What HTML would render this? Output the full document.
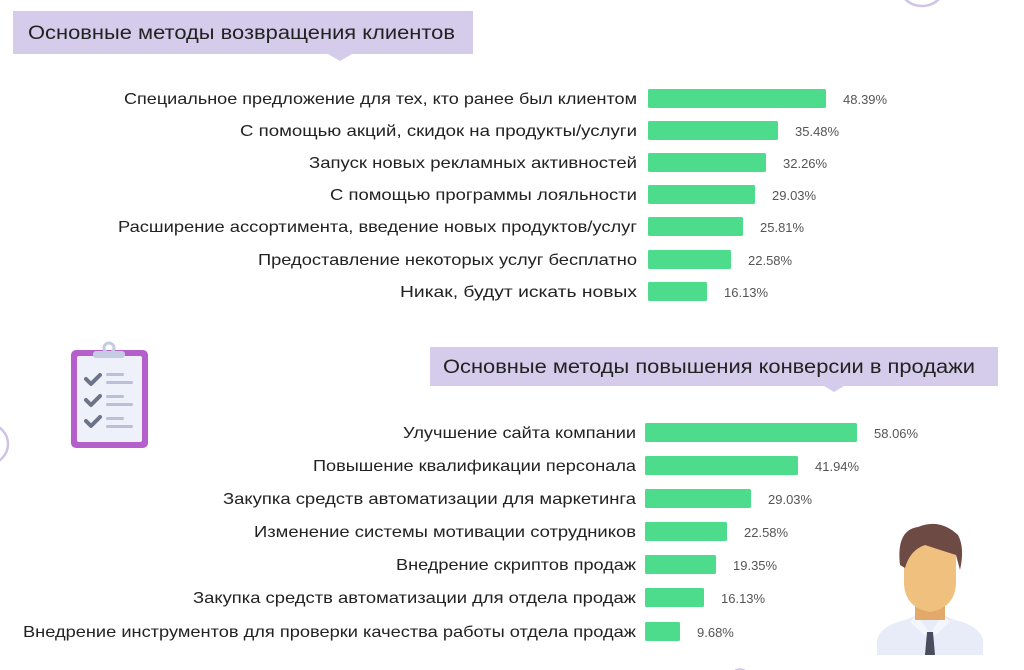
<!DOCTYPE html>
<html><head><meta charset="utf-8"><style>
html,body{margin:0;padding:0;background:#fff;}
svg{display:block;font-family:"Liberation Sans",sans-serif;}
</style></head><body>
<svg width="1024" height="670" viewBox="0 0 1024 670" xmlns="http://www.w3.org/2000/svg">
<circle cx="922" cy="-18" r="24" fill="none" stroke="#cfc3e6" stroke-width="2.5"/>
<circle cx="-12" cy="444" r="20" fill="none" stroke="#cfc3e6" stroke-width="2.5"/>
<circle cx="740" cy="678" r="9" fill="none" stroke="#cfc3e6" stroke-width="1.5"/>

<polygon points="13,11 473,11 473,54 352,54 340,61 328,54 13,54" fill="#d5cbea"/>
<text x="28" y="39" font-size="19" fill="#222" textLength="427" lengthAdjust="spacingAndGlyphs">Основные методы возвращения клиентов</text>

<g font-size="16" fill="#222" text-anchor="end">
<text x="637" y="104" textLength="513" lengthAdjust="spacingAndGlyphs">Специальное предложение для тех, кто ранее был клиентом</text>
<text x="637" y="136" textLength="397" lengthAdjust="spacingAndGlyphs">С помощью акций, скидок на продукты/услуги</text>
<text x="637" y="168" textLength="328" lengthAdjust="spacingAndGlyphs">Запуск новых рекламных активностей</text>
<text x="637" y="200" textLength="307" lengthAdjust="spacingAndGlyphs">С помощью программы лояльности</text>
<text x="637" y="232" textLength="519" lengthAdjust="spacingAndGlyphs">Расширение ассортимента, введение новых продуктов/услуг</text>
<text x="637" y="265" textLength="379" lengthAdjust="spacingAndGlyphs">Предоставление некоторых услуг бесплатно</text>
<text x="637" y="297" textLength="237" lengthAdjust="spacingAndGlyphs">Никак, будут искать новых</text>
</g>
<g fill="#4cdc8c">
<rect x="648" y="89" width="178" height="19" rx="1.5"/>
<rect x="648" y="121" width="130" height="19" rx="1.5"/>
<rect x="648" y="153" width="118" height="19" rx="1.5"/>
<rect x="648" y="185" width="107" height="19" rx="1.5"/>
<rect x="648" y="217" width="95" height="19" rx="1.5"/>
<rect x="648" y="250" width="83" height="19" rx="1.5"/>
<rect x="648" y="282" width="59" height="19" rx="1.5"/>
</g>
<g font-size="13" fill="#555">
<text x="843" y="104">48.39%</text>
<text x="795" y="136">35.48%</text>
<text x="783" y="168">32.26%</text>
<text x="772" y="200">29.03%</text>
<text x="760" y="232">25.81%</text>
<text x="748" y="265">22.58%</text>
<text x="724" y="297">16.13%</text>
</g>

<rect x="71" y="350" width="77" height="98" rx="5" fill="#b45fcc"/>
<rect x="77" y="356" width="65" height="86" rx="2" fill="#eef0fa"/>
<rect x="93" y="351" width="32" height="7" rx="3" fill="#c5cbe0"/>
<circle cx="109" cy="348" r="5" fill="none" stroke="#c5cbe0" stroke-width="3"/>
<g stroke="#6e7488" stroke-width="4" fill="none" stroke-linecap="round" stroke-linejoin="round">
<polyline points="86,379 91,384 100,375"/>
<polyline points="86,400 91,405 100,396"/>
<polyline points="86,421 91,426 100,417"/>
</g>
<g fill="#b9c0d8">
<rect x="106" y="373" width="18" height="3" rx="1.5"/><rect x="106" y="381" width="27" height="3" rx="1.5"/>
<rect x="106" y="395" width="18" height="3" rx="1.5"/><rect x="106" y="403" width="27" height="3" rx="1.5"/>
<rect x="106" y="417" width="18" height="3" rx="1.5"/><rect x="106" y="425" width="27" height="3" rx="1.5"/>
</g>

<polygon points="430,347 998,347 998,386 844,386 834,392 824,386 430,386" fill="#d5cbea"/>
<text x="443" y="373" font-size="19" fill="#222" textLength="532" lengthAdjust="spacingAndGlyphs">Основные методы повышения конверсии в продажи</text>

<g font-size="16" fill="#222" text-anchor="end">
<text x="636" y="438" textLength="233" lengthAdjust="spacingAndGlyphs">Улучшение сайта компании</text>
<text x="636" y="471" textLength="323" lengthAdjust="spacingAndGlyphs">Повышение квалификации персонала</text>
<text x="636" y="504" textLength="413" lengthAdjust="spacingAndGlyphs">Закупка средств автоматизации для маркетинга</text>
<text x="636" y="537" textLength="382" lengthAdjust="spacingAndGlyphs">Изменение системы мотивации сотрудников</text>
<text x="636" y="570" textLength="240" lengthAdjust="spacingAndGlyphs">Внедрение скриптов продаж</text>
<text x="636" y="603" textLength="443" lengthAdjust="spacingAndGlyphs">Закупка средств автоматизации для отдела продаж</text>
<text x="636" y="637" textLength="613" lengthAdjust="spacingAndGlyphs">Внедрение инструментов для проверки качества работы отдела продаж</text>
</g>
<g fill="#4cdc8c">
<rect x="645" y="423" width="212" height="19" rx="1.5"/>
<rect x="645" y="456" width="153" height="19" rx="1.5"/>
<rect x="645" y="489" width="106" height="19" rx="1.5"/>
<rect x="645" y="522" width="82" height="19" rx="1.5"/>
<rect x="645" y="555" width="71" height="19" rx="1.5"/>
<rect x="645" y="588" width="59" height="19" rx="1.5"/>
<rect x="645" y="622" width="35" height="19" rx="1.5"/>
</g>
<g font-size="13" fill="#555">
<text x="874" y="438">58.06%</text>
<text x="815" y="471">41.94%</text>
<text x="768" y="504">29.03%</text>
<text x="744" y="537">22.58%</text>
<text x="733" y="570">19.35%</text>
<text x="721" y="603">16.13%</text>
<text x="697" y="637">9.68%</text>
</g>

<path d="M877,655 L877,640 Q880,626 905,620 L915,616 L945,616 L955,620 Q980,626 983,640 L983,655 Z" fill="#e8ecf8"/>
<polygon points="917,615 930,633 943,615 950,622 930,640 910,622" fill="#f4f6fc"/>
<polygon points="927,632 933,632 935,655 925,655" fill="#4a4d5e"/>
<rect x="915" y="595" width="30" height="25" fill="#e2a96b"/>
<path d="M904,560 Q904,530 930,530 Q956,530 956,560 L956,585 Q954,608 930,612 Q906,608 904,585 Z" fill="#f0c07f"/>
<path d="M900,565 Q896,530 918,527 Q940,518 958,535 Q965,548 960,570 L956,555 Q940,550 925,545 Q910,550 905,568 Z" fill="#6e4a45"/>
</svg>
</body></html>
